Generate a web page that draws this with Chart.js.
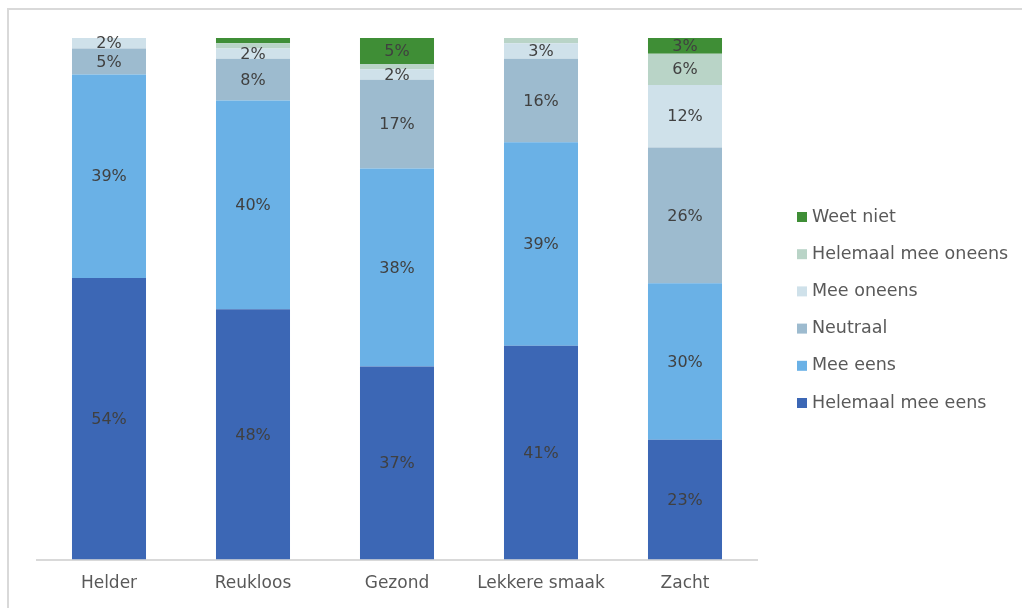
<!DOCTYPE html>
<html>
<head>
<meta charset="utf-8">
<script src="https://cdn.jsdelivr.net/npm/chart.js@4/dist/chart.umd.min.js"></script>
<style>
  html, body { margin: 0; padding: 0; background: #fff; }
  #wrap { width: 1022px; height: 608px; position: relative; }
</style>
</head>
<body>
<div id="wrap"><canvas id="stackChart"></canvas></div>
<script>
const categories = ['Helder', 'Reukloos', 'Gezond', 'Lekkere smaak', 'Zacht'];

const helemaalMeeEens   = [54, 48, 37, 41, 23];
const meeEens           = [39, 40, 38, 39, 30];
const neutraal          = [5, 8, 17, 16, 26];
const meeOneens         = [2, 2, 2, 3, 12];
const helemaalMeeOneens = [0, 1, 1, 1, 6];
const weetNiet          = [0, 1, 5, 0, 3];

const seriesNames = ['Helemaal mee eens', 'Mee eens', 'Neutraal', 'Mee oneens', 'Helemaal mee oneens', 'Weet niet'];
const seriesColors = ['#3c67b5', '#6ab1e6', '#9dbbcf', '#cfe1ea', '#b9d4c7', '#3f8e36'];
const seriesValues = [helemaalMeeEens, meeEens, neutraal, meeOneens, helemaalMeeOneens, weetNiet];

const FONT = '"DejaVu Sans", Verdana, sans-serif';

// percentages inside the segments
const segmentLabels = {
  id: 'segmentLabels',
  afterDatasetsDraw(chart) {
    const ctx = chart.ctx;
    ctx.save();
    ctx.font = '16px ' + FONT;
    ctx.fillStyle = '#404040';
    ctx.textAlign = 'center';
    ctx.textBaseline = 'middle';
    chart.data.datasets.forEach((ds, i) => {
      chart.getDatasetMeta(i).data.forEach((bar, j) => {
        const v = ds.data[j];
        if (v < 2) return;
        ctx.fillText(v + '%', bar.x, (bar.y + bar.base) / 2 + 1);
      });
    });
    ctx.restore();
  }
};

// legend on the right, last series on top
const sideLegend = {
  id: 'sideLegend',
  afterDraw(chart) {
    const ctx = chart.ctx;
    const x = chart.chartArea.right + 40;
    const rowH = 37.2;
    const firstY = 217;
    ctx.save();
    ctx.font = '17.5px ' + FONT;
    ctx.textBaseline = 'middle';
    ctx.textAlign = 'left';
    const n = chart.data.datasets.length;
    for (let k = 0; k < n; k++) {
      const ds = chart.data.datasets[n - 1 - k];
      const y = firstY + k * rowH;
      ctx.fillStyle = ds.backgroundColor;
      ctx.fillRect(x, y - 5, 10, 10);
      ctx.fillStyle = '#595959';
      ctx.fillText(ds.label, x + 15, y);
    }
    ctx.restore();
  }
};

// thin frame round the chart
const frame = {
  id: 'frame',
  beforeDraw(chart) {
    const ctx = chart.ctx;
    ctx.save();
    ctx.strokeStyle = '#d9d9d9';
    ctx.lineWidth = 2;
    ctx.beginPath();
    ctx.moveTo(8, chart.height);
    ctx.lineTo(8, 9);
    ctx.lineTo(chart.width, 9);
    ctx.stroke();
    ctx.restore();
  }
};

new Chart(document.getElementById('stackChart'), {
  type: 'bar',
  data: {
    labels: categories,
    datasets: seriesNames.map((name, i) => ({
      label: name,
      data: seriesValues[i],
      backgroundColor: seriesColors[i],
      borderWidth: 0,
      categoryPercentage: 1,
      barPercentage: 0.514
    }))
  },
  options: {
    responsive: true,
    maintainAspectRatio: false,
    animation: false,
    layout: {
      padding: { left: 37, right: 265, top: 38, bottom: 0 }
    },
    scales: {
      x: {
        stacked: true,
        grid: { display: false, drawTicks: false },
        border: { color: '#d9d9d9', width: 2 },
        ticks: {
          color: '#595959',
          font: { family: FONT, size: 17 },
          padding: 14
        }
      },
      y: {
        stacked: true,
        display: false,
        min: 0,
        max: 100
      }
    },
    plugins: {
      legend: { display: false },
      tooltip: { enabled: false }
    }
  },
  plugins: [frame, segmentLabels, sideLegend]
});
</script>
</body>
</html>
